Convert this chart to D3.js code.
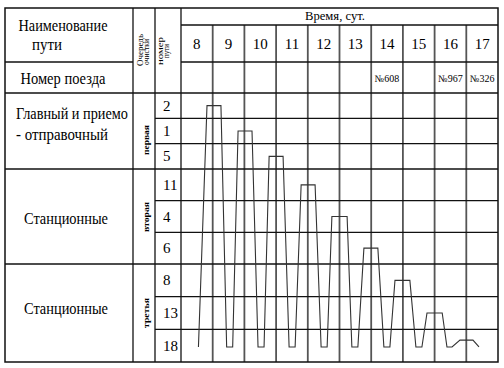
<!DOCTYPE html>
<html><head><meta charset="utf-8">
<script src="https://cdn.jsdelivr.net/npm/d3@7"></script>
<style>
html,body{margin:0;padding:0;background:#fff;}
svg{display:block;}
text{font-family:"Liberation Serif","Times New Roman",serif;}
</style></head>
<body><svg id="c" width="504" height="368"></svg>
<script>
// ---- data ----
const timeTicks = [8, 9, 10, 11, 12, 13, 14, 15, 16, 17];
const trainCols = [14, 16, 17];
const trainLabels = ["№608", "№967", "№326"];
const groupOrder = ["первая", "вторая", "третья"];
const groupNames = [["Главный и приемо", "- отправочный"], ["Станционные"], ["Станционные"]];
const tracks = [2, 1, 5, 11, 4, 6, 8, 13, 18];
// cleaning curve: time (days) and track level (row position, 0 = top of first track row)
const curveTime  = [8.55, 8.82, 9.26, 9.44, 9.63, 9.80, 10.24, 10.43, 10.62, 10.78, 11.22, 11.41, 11.60, 11.79, 12.23, 12.42, 12.61, 12.76, 13.24, 13.39, 13.58, 13.77, 14.21, 14.40, 14.59, 14.75, 15.22, 15.41, 15.60, 15.76, 16.24, 16.39, 16.55, 16.80, 17.21, 17.40];
const curveLevel = [8.54, 0.5, 0.5, 8.54, 8.54, 1.5, 1.5, 8.54, 8.54, 2.5, 2.5, 8.54, 8.54, 3.5, 3.5, 8.54, 8.54, 4.5, 4.5, 8.54, 8.54, 5.5, 5.5, 8.54, 8.54, 6.5, 6.5, 8.54, 8.54, 7.5, 7.5, 8.54, 8.54, 8.33, 8.33, 8.54];

// ---- layout ----
const svg = d3.select("#c");
const L = 5, T = 8, R = 498, B = 362;
const xName = 133, xQueue = 155, xTrack = 181;
const yTimeHdr = 25, yHdr = 62, yTrain = 93;
const x = d3.scaleLinear().domain([8, 18]).range([xTrack, R]);
const y = d3.scaleLinear().domain([0, 3, 6, 9]).range([yTrain, 169, 264, B]);

const g = svg.append("g");
const blk = "#111", gry = "#555";
function line(x1, y1, x2, y2, c, w) {
  g.append("line").attr("x1", x1).attr("y1", y1).attr("x2", x2).attr("y2", y2)
    .attr("stroke", c).attr("stroke-width", w);
}
timeTicks.slice(1).forEach(t => line(x(t), yTimeHdr, x(t), B, gry, 1.8));
[1, 2, 4, 5, 7, 8].forEach(r => line(xQueue, y(r), R, y(r), blk, 1.3));
[3, 6].forEach(r => line(L, y(r), R, y(r), blk, 1.3));
line(xTrack, yTimeHdr, R, yTimeHdr, blk, 1.3);
line(L, yHdr, xName, yHdr, blk, 1.3);
line(xTrack, yHdr, R, yHdr, blk, 1.3);
line(L, yTrain, R, yTrain, blk, 1.3);
[xName, xQueue, xTrack].forEach(xx => line(xx, T, xx, B, blk, 1.3));
g.append("rect").attr("x", L).attr("y", T).attr("width", R - L).attr("height", B - T)
  .attr("fill", "none").attr("stroke", blk).attr("stroke-width", 1.5);

svg.append("path")
  .datum(curveTime.map((t, i) => [t, curveLevel[i]]))
  .attr("d", d3.line().x(d => x(d[0])).y(d => y(d[1])))
  .attr("fill", "none").attr("stroke", "#333").attr("stroke-width", 1.1);

// ---- texts ----
function txt(s, tx, ty, size, anchor) {
  return svg.append("text").attr("x", tx).attr("y", ty)
    .attr("font-size", size).attr("text-anchor", anchor || "middle").attr("fill", "#000").text(s);
}
function ctxt(s, tx, ty, size, anchor, len) {
  return txt(s, tx, ty, size, anchor).attr("textLength", len).attr("lengthAdjust", "spacingAndGlyphs");
}
ctxt("Наименование", 63, 31, 16, "middle", 89);
ctxt("пути", 47, 50, 16, "middle", 30);
ctxt("Номер поезда", 63, 84, 16, "middle", 85);
ctxt("Время, сут.", 335, 20, 12, "middle", 60);
timeTicks.forEach(t => txt(String(t), x(t + 0.5), 49, 15));
trainCols.forEach((t, i) => txt(trainLabels[i], x(t + 0.5), 82, 10));

const groupY = [[119, 140], [224], [314]];
const groupLen = [[112, 92], [84], [84]];
groupNames.forEach((lines, gi) => {
  lines.forEach((s, li) => {
    const multi = lines.length > 1;
    ctxt(s, multi ? 16 : 66, groupY[gi][li], 16, multi ? "start" : "middle", groupLen[gi][li]);
  });
});
function vtxt(s, bx, cy, size, weight, len) {
  svg.append("text").attr("transform", `translate(${bx},${cy}) rotate(-90)`)
    .attr("text-anchor", "middle").attr("font-size", size)
    .attr("font-weight", weight || "normal").attr("fill", "#000")
    .attr("textLength", len).attr("lengthAdjust", "spacingAndGlyphs").text(s);
}
vtxt("Очередь", 142.5, 50, 8, "normal", 32);
vtxt("очистки", 148.5, 52, 8, "normal", 26);
vtxt("номер", 162.5, 51, 8, "normal", 28);
vtxt("пути", 169, 51, 8, "normal", 14);
const groupLabelY = [140, 217, 313];
groupOrder.forEach((s, i) => vtxt(s, 149, groupLabelY[i], 8, "bold", 30));

tracks.forEach((n, i) => txt(String(n), 163, y(i + 0.5), 15, "start")
  .attr("dominant-baseline", "central"));
</script></body></html>
